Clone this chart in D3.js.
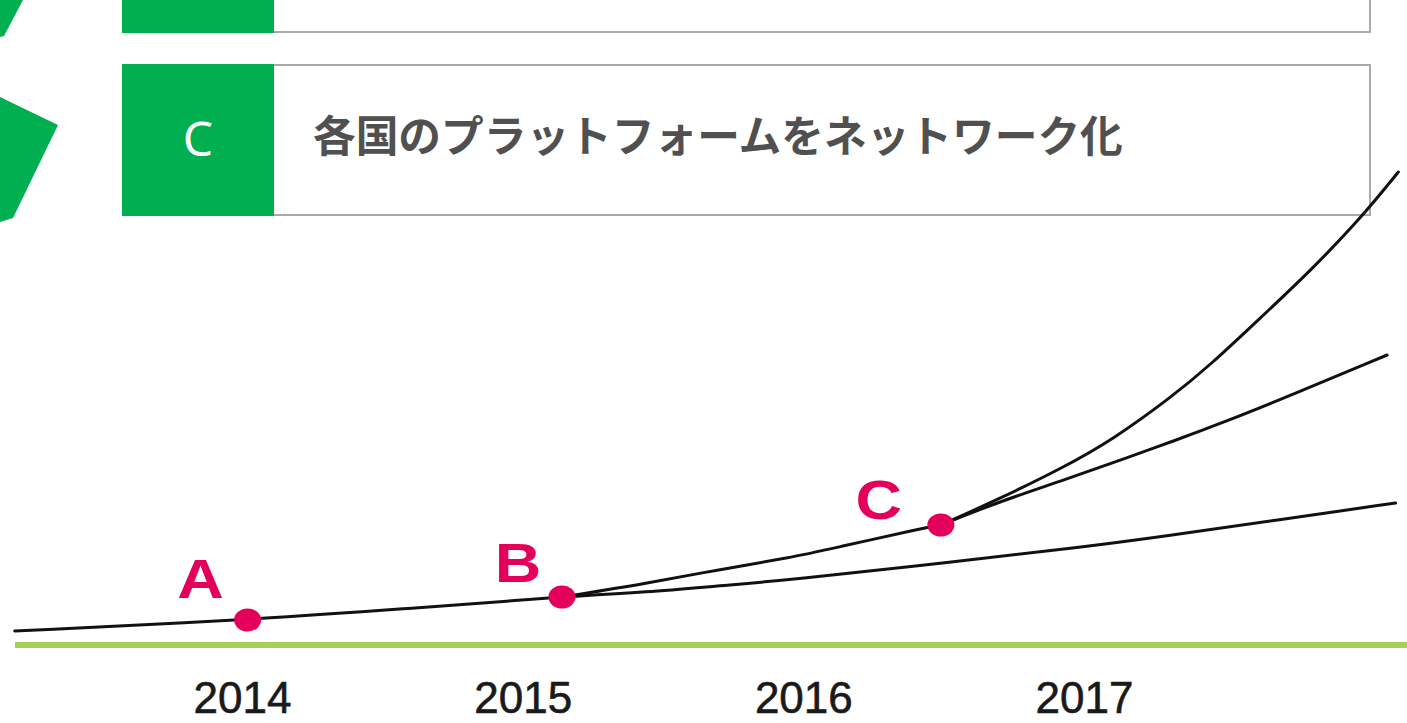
<!DOCTYPE html>
<html lang="ja">
<head>
<meta charset="utf-8">
<script src="https://cdn.jsdelivr.net/npm/d3@7"></script>
<style>
  body { margin: 0; background: #fff; }
  svg { display: block; }
</style>
</head>
<body>
<svg id="chart"></svg>
<script>
// values (year, growth index)
const years = [2014, 2015, 2016, 2017];
const stepLabels = ['C'];
const stepTitles = ['各国のプラットフォームをネットワーク化'];
const milestoneNames = ['A', 'B', 'C'];
const milestoneYears = [2014.02, 2015.14, 2016.49];
const milestoneValues = [5.0, 9.6, 24.0];
const baseTrend = [[2013.19, 2.8], [2014.02, 5.0], [2014.57, 7.2], [2015.14, 9.6]];
const slowTrend = [[2015.14, 9.6], [2015.45, 10.6], [2015.69, 11.8], [2015.95, 13.0], [2016.53, 16.6],
  [2017.00, 19.6], [2017.27, 21.6], [2017.69, 25.0], [2018.11, 28.4]];
const riseTrend = [[2015.14, 9.6], [2015.45, 12.4], [2015.69, 15.0], [2015.95, 17.4], [2016.11, 19.4],
  [2016.43, 23.4], [2016.49, 24.0]];
const networkTrend = [[2016.49, 24.0], [2016.69, 29.0], [2016.93, 35.6], [2017.10, 41.0], [2017.31, 49.5],
  [2017.45, 56.0], [2017.63, 65.5], [2017.81, 75.0], [2017.99, 85.6], [2018.12, 94.6]];
const linkedTrend = [[2016.49, 24.0], [2016.69, 28.5], [2016.93, 33.0], [2017.16, 37.6], [2017.31, 40.6],
  [2017.51, 44.8], [2017.74, 50.0], [2018.08, 58.0]];

class GrowthChart {
  constructor(_config) {
    this.config = {
      parentElement: _config.parentElement,
      containerWidth: 1407,
      containerHeight: 723,
      xRange: [242, 1084],
      yRange: [645, 145],
      green: '#00b050',
      lime: '#a5cf5a',
      pink: '#e4005a',
      // label position relative to its dot
      labelOffset: { A: [-47, -22], B: [-44, -15], C: [-62, -6] },
    };
    this.initVis();
  }

  initVis() {
    const vis = this;

    vis.xScale = d3.scaleLinear()
      .domain([2014, 2017])
      .range(vis.config.xRange);

    vis.yScale = d3.scaleLinear()
      .domain([0, 100])
      .range(vis.config.yRange);

    vis.svg = d3.select(vis.config.parentElement)
      .attr('width', vis.config.containerWidth)
      .attr('height', vis.config.containerHeight);

    vis.line = d3.line()
      .x((d) => vis.xScale(d[0]))
      .y((d) => vis.yScale(d[1]))
      .curve(d3.curveBasis);

    vis.drawHeader();
    vis.renderVis();
  }

  // step boxes and green shapes at the top
  drawHeader() {
    const vis = this;
    const g = vis.svg.append('g').attr('class', 'header');

    g.append('polygon')
      .attr('points', '0,0 23,0 4,36 0,37')
      .attr('fill', vis.config.green);
    g.append('polygon')
      .attr('points', '0,97 58,125 13,218 0,222')
      .attr('fill', vis.config.green);

    // previous step, cut off by the top edge
    g.append('rect')
      .attr('x', 123).attr('y', -100)
      .attr('width', 1247).attr('height', 132)
      .attr('fill', '#fff')
      .attr('stroke', '#aaa')
      .attr('stroke-width', 2);
    g.append('rect')
      .attr('x', 122).attr('y', -100)
      .attr('width', 152).attr('height', 133)
      .attr('fill', vis.config.green);

    const step = g.selectAll('.step')
      .data(stepLabels)
      .join('g')
      .attr('class', 'step');
    step.append('rect')
      .attr('x', 123).attr('y', 65)
      .attr('width', 1247).attr('height', 150)
      .attr('fill', '#fff')
      .attr('stroke', '#aaa')
      .attr('stroke-width', 2);
    step.append('rect')
      .attr('x', 122).attr('y', 64)
      .attr('width', 152).attr('height', 152)
      .attr('fill', vis.config.green);
    step.append('text')
      .attr('x', 198).attr('y', 156)
      .attr('text-anchor', 'middle')
      .attr('fill', '#fff')
      .style('font-family', '"Noto Sans", "DejaVu Sans", sans-serif')
      .style('font-size', '48px')
      .text((d) => d);
    step.append('text')
      .attr('x', 313).attr('y', 152)
      .attr('fill', '#505050')
      .style('font-family', '"Noto Sans CJK JP", sans-serif')
      .style('font-weight', 'bold')
      .style('font-size', '42.7px')
      .text((d, i) => stepTitles[i]);
  }

  renderVis() {
    const vis = this;
    const chart = vis.svg.append('g').attr('class', 'chart');

    // baseline
    chart.append('line')
      .attr('x1', 15)
      .attr('x2', vis.config.containerWidth)
      .attr('y1', vis.yScale(0))
      .attr('y2', vis.yScale(0))
      .attr('stroke', vis.config.lime)
      .attr('stroke-width', 6);

    chart.selectAll('.trend')
      .data([baseTrend, slowTrend, riseTrend, networkTrend, linkedTrend])
      .join('path')
      .attr('class', 'trend')
      .attr('d', vis.line)
      .attr('fill', 'none')
      .attr('stroke', '#111')
      .attr('stroke-width', 3)
      .attr('stroke-linecap', 'round');

    const milestones = milestoneNames.map((name, i) => ({
      name, year: milestoneYears[i], value: milestoneValues[i],
    }));

    chart.selectAll('.dot')
      .data(milestones)
      .join('ellipse')
      .attr('class', 'dot')
      .attr('cx', (d) => vis.xScale(d.year))
      .attr('cy', (d) => vis.yScale(d.value))
      .attr('rx', 13.5)
      .attr('ry', 11.5)
      .attr('fill', vis.config.pink);

    // letters in the reference are a bit stretched horizontally
    chart.selectAll('.milestone-label')
      .data(milestones)
      .join('text')
      .attr('class', 'milestone-label')
      .attr('transform', (d) => {
        const x = vis.xScale(d.year) + vis.config.labelOffset[d.name][0];
        const y = vis.yScale(d.value) + vis.config.labelOffset[d.name][1];
        return `translate(${x},${y}) scale(1.15,1)`;
      })
      .attr('text-anchor', 'middle')
      .attr('fill', vis.config.pink)
      .style('font-family', '"Liberation Sans", Arial, sans-serif')
      .style('font-weight', 'bold')
      .style('font-size', '56px')
      .text((d) => d.name);

    // year labels, drawn with an axis without domain or ticks
    const xAxis = d3.axisBottom(vis.xScale)
      .tickValues(years)
      .tickFormat(d3.format('d'))
      .tickSize(0)
      .tickPadding(0);
    const xAxisG = chart.append('g')
      .attr('class', 'axis x-axis')
      .attr('transform', 'translate(0,713)')
      .call(xAxis);
    xAxisG.select('.domain').remove();
    xAxisG.selectAll('text')
      .attr('dy', 0)
      .attr('fill', '#1a1a1a')
      .attr('stroke', '#1a1a1a')
      .attr('stroke-width', 0.6)
      .style('font-family', '"Liberation Sans", Arial, sans-serif')
      .style('font-size', '44px');
  }
}

new GrowthChart({ parentElement: '#chart' });
</script>
</body>
</html>
